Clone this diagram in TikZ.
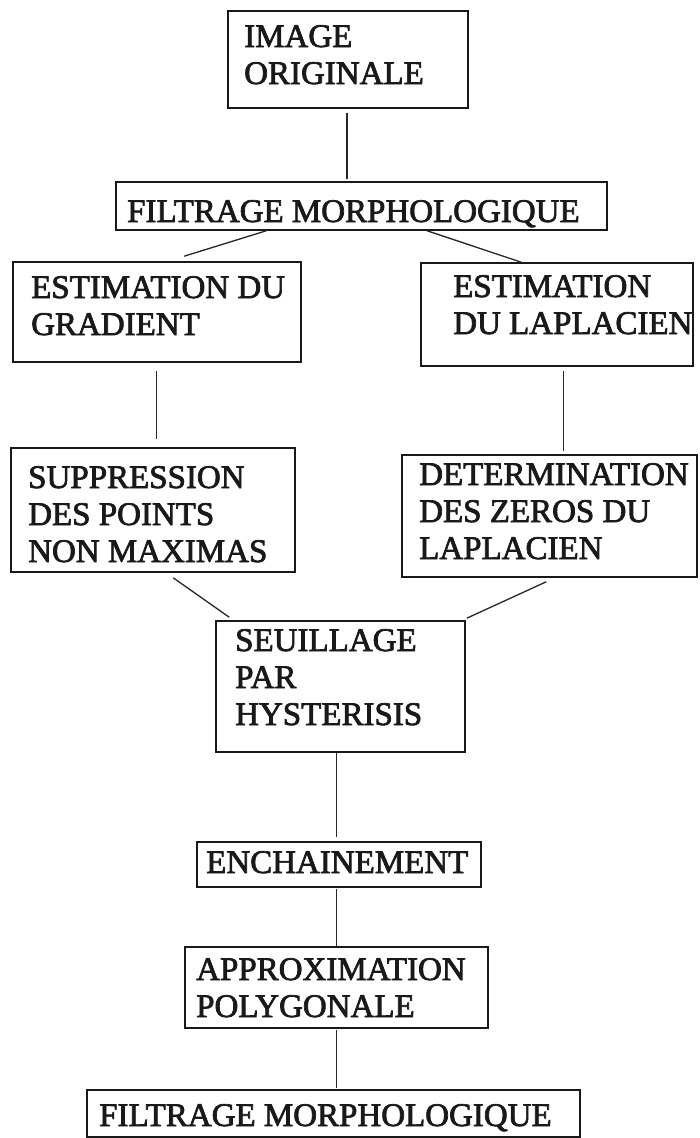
\documentclass[tikz,border=0pt]{standalone}
\usepackage{fontspec}
\newfontfamily\scanfont{Liberation Serif}[FakeBold=2.2]
\usetikzlibrary{calc,fit}
\tikzset{
  boxnode/.style={draw=black!90, line width=1.6pt, inner sep=0pt},
  txt/.style={inner sep=0pt, anchor=base west, text=black!90,
    font=\scanfont\fontsize{33}{37}\selectfont},
  conn/.style={draw=black!85, line width=1.3pt}
}
\begin{document}
\begin{tikzpicture}[x=1pt,y=-1pt]
\useasboundingbox[fill=white] (0,0) rectangle (699,1138);
% boxes
\node[boxnode, fit={(228,11)(468,108)}] (img) {};
\node[boxnode, fit={(116,182)(607,230)}] (f1) {};
\node[boxnode, fit={(13,262)(301,362)}] (eg) {};
\node[boxnode, fit={(421,263)(693,366)}] (el) {};
\node[boxnode, fit={(11,448)(295,572)}] (sup) {};
\node[boxnode, fit={(402,455)(697,577)}] (det) {};
\node[boxnode, fit={(216,621)(465,752)}] (seu) {};
\node[boxnode, fit={(197,842)(481,887)}] (enc) {};
\node[boxnode, fit={(185,947)(488,1028)}] (app) {};
\node[boxnode, fit={(87,1090)(580,1137)}] (f2) {};
% texts
\node[txt] (timg) at (244,47) {\vtop{\hbox{IMAGE}\hbox{ORIGINALE}}};
\node[txt] (tf1) at (127,222) {FILTRAGE MORPHOLOGIQUE};
\node[txt] (teg) at (31,298) {\vtop{\hbox{ESTIMATION DU}\hbox{GRADIENT}}};
\node[txt] (tel) at (453,297) {\vtop{\hbox{ESTIMATION}\hbox{DU LAPLACIEN}}};
\node[txt] (tsup) at (28,488) {\vtop{\hbox{SUPPRESSION}\hbox{DES POINTS}\hbox{NON MAXIMAS}}};
\node[txt] (tdet) at (419,485) {\vtop{\hbox{DETERMINATION}\hbox{DES ZEROS DU}\hbox{LAPLACIEN}}};
\node[txt] (tseu) at (235,651) {\vtop{\hbox{SEUILLAGE}\hbox{PAR}\hbox{HYSTERISIS}}};
\node[txt] (tenc) at (206,873) {ENCHAINEMENT};
\node[txt] (tapp) at (196,980) {\vtop{\hbox{APPROXIMATION}\hbox{POLYGONALE}}};
\node[txt] (tf2) at (99,1126) {FILTRAGE MORPHOLOGIQUE};
% connectors
\draw[conn] ($(img.south)+(-1,4)$) -- ($(img.south |- f1.north)+(-1,-2)$);
\draw[conn] ($(f1.south west)+(151,0)$) -- ($(eg.north west)+(172,-5)$);
\draw[conn] ($(f1.south west)+(312,0)$) -- ($(el.north west)+(101,0)$);
\draw[conn] ($(eg.south west)+(144,8)$) -- ($(sup.north west)+(146,-8)$);
\draw[conn] ($(el.south west)+(143,4)$) -- ($(det.north west)+(162,-3)$);
\draw[conn] ($(sup.south west)+(163,5)$) -- ($(seu.north west)+(14,-3)$);
\draw[conn] ($(det.south west)+(145,4)$) -- ($(seu.north east)+(1,-2)$);
\draw[conn] ($(seu.south west)+(121,0)$) -- ($(enc.north west)+(140,-4)$);
\draw[conn] ($(enc.south west)+(140,1)$) -- ($(app.north west)+(152,0)$);
\draw[conn] ($(app.south west)+(152,1)$) -- ($(f2.north west)+(250,-1)$);
\end{tikzpicture}
\end{document}
